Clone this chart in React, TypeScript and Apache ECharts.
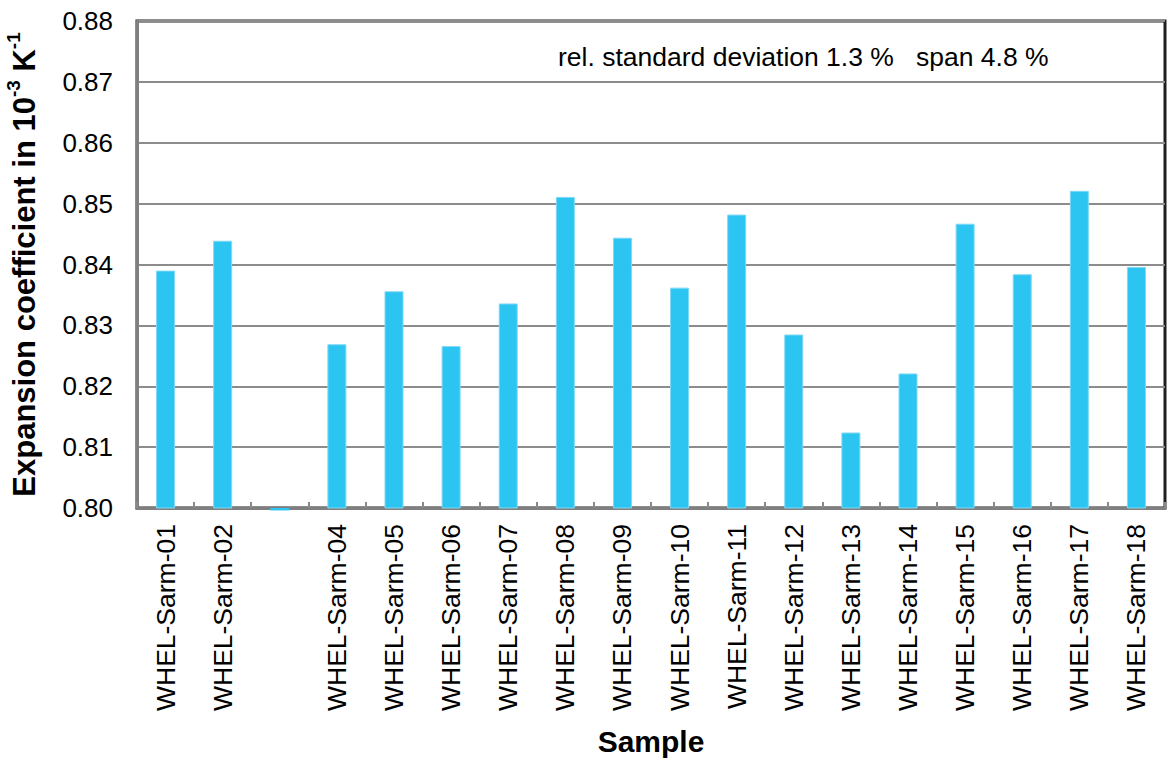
import React, { useEffect, useRef } from "react";
import * as echarts from "echarts";

const categories = [
  "WHEL-Sarm-01", "WHEL-Sarm-02", "", "WHEL-Sarm-04", "WHEL-Sarm-05", "WHEL-Sarm-06",
  "WHEL-Sarm-07", "WHEL-Sarm-08", "WHEL-Sarm-09", "WHEL-Sarm-10", "WHEL-Sarm-11", "WHEL-Sarm-12",
  "WHEL-Sarm-13", "WHEL-Sarm-14", "WHEL-Sarm-15", "WHEL-Sarm-16", "WHEL-Sarm-17", "WHEL-Sarm-18",
];
const values = [
  0.839, 0.8439, 0.7996, 0.8269, 0.8356, 0.8266, 0.8336, 0.8511, 0.8444, 0.8362,
  0.8482, 0.8285, 0.8124, 0.8221, 0.8467, 0.8384, 0.8521, 0.8396,
];
const yMin = 0.8;
const yMax = 0.88;
const yInterval = 0.01;
const annotation = "rel. standard deviation 1.3 %   span 4.8 %";

const FONT = "'Liberation Sans', Arial, sans-serif";
const BAR_COLOR = "#2cc4f0";

export default function App() {
  const ref = useRef<HTMLDivElement>(null);
  useEffect(() => {
    if (!ref.current) return;
    const chart = echarts.init(ref.current, null, { renderer: "svg" });
    const aboveAxis = values.map((v) => (v >= yMin ? v : null));
    const belowAxis = values.map((v, i) => (v < yMin ? [i, v] : null)).filter((d) => d !== null);
    chart.setOption({
      animation: false,
      backgroundColor: "#ffffff",
      textStyle: { fontFamily: FONT },
      grid: {
        left: 137,
        right: 5,
        top: 21,
        bottom: 250,
        outerBoundsMode: "none",
        containLabel: false,
        show: true,
        borderColor: "#1e1e1e",
        borderWidth: 3,
        backgroundColor: "transparent",
      },
      xAxis: {
        type: "category",
        data: categories,
        name: "Sample",
        nameLocation: "middle",
        nameGap: 218,
        nameTextStyle: { fontSize: 30, fontWeight: "bold", color: "#000", fontFamily: FONT },
        axisLine: { lineStyle: { color: "#7f7f7f", width: 3 } },
        axisTick: { show: true, inside: true, length: 6, lineStyle: { color: "#8a8a8a", width: 2 } },
        axisLabel: {
          rotate: 90,
          margin: 16,
          fontSize: 26.5,
          color: "#000",
          fontFamily: FONT,
          interval: 0,
        },
      },
      yAxis: {
        type: "value",
        min: yMin,
        max: yMax,
        interval: yInterval,
        name: "{b|Expansion coefficient in 10}{s|-3}{b| K}{s|-1}",
        nameLocation: "middle",
        nameRotate: 90,
        nameGap: 97,
        nameTextStyle: {
          color: "#000",
          fontFamily: FONT,
          rich: {
            b: { fontSize: 31, fontWeight: "bold", color: "#000", fontFamily: FONT, verticalAlign: "bottom", lineHeight: 36 },
            s: { fontSize: 19, fontWeight: "bold", color: "#000", fontFamily: FONT, verticalAlign: "top", lineHeight: 36, padding: [0, 0, 12, 0] },
          },
        },
        axisLine: { show: true, lineStyle: { color: "#7f7f7f", width: 3 } },
        axisTick: { show: false },
        axisLabel: {
          fontSize: 26,
          color: "#000",
          margin: 24,
          fontFamily: FONT,
          formatter: (v: number) => v.toFixed(2),
        },
        splitLine: { show: true, lineStyle: { color: "#8c8c8c", width: 2 } },
      },
      graphic: [
        {
          type: "text",
          left: 558,
          top: 43,
          style: { text: annotation, fontSize: 26.5, fill: "#000", fontFamily: FONT },
        },
      ],
      series: [
        {
          type: "bar",
          data: aboveAxis,
          barWidth: 19,
          itemStyle: { color: BAR_COLOR, borderColor: "#7fd9f5", borderWidth: 1 },
        },
        {
          type: "custom",
          data: belowAxis,
          clip: false,
          z: 3,
          renderItem: (params: any, api: any) => {
            const idx = api.value(0);
            const top = api.coord([idx, yMin]);
            const bottom = api.coord([idx, api.value(1)]);
            return {
              type: "rect",
              shape: { x: top[0] - 9.5, y: top[1], width: 19, height: bottom[1] - top[1] },
              style: { fill: BAR_COLOR },
            };
          },
        },
      ],
    });
    return () => chart.dispose();
  }, []);
  return (
    <div
      ref={ref}
      style={{ position: "fixed", left: 0, top: 0, width: 1170, height: 758, background: "#fff" }}
    />
  );
}
